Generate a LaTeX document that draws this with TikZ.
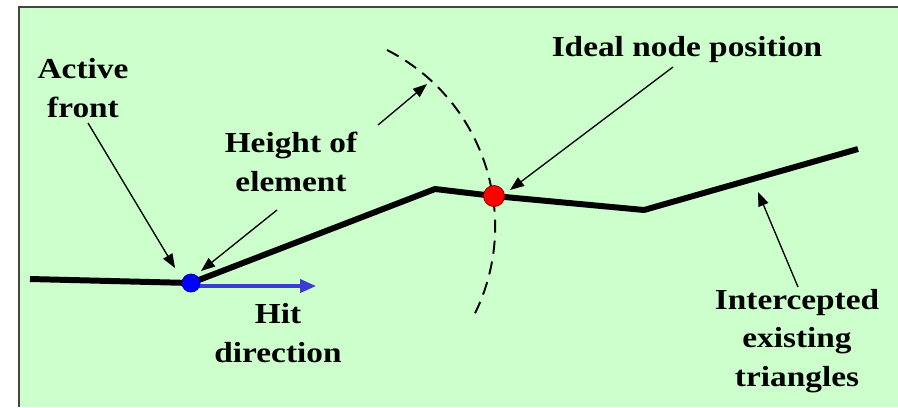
\documentclass[tikz,border=0pt]{standalone}
\usepackage{fontspec}
\setmainfont{Liberation Serif}
\newfontfamily\lblfont[FakeStretch=1.15]{Liberation Serif}
\usetikzlibrary{arrows.meta}
\definecolor{paper}{HTML}{CCFFCC}
\definecolor{frame}{HTML}{444444}
\definecolor{hitblue}{HTML}{3C3CD2}
\tikzset{
  % Bold serif labels
  lbl/.style={font=\lblfont\bfseries\fontsize{16.5}{22}\selectfont,
    align=center, inner sep=0pt},
  % Thin pointers from labels
  ptr/.style={-{Triangle[length=8pt,width=6pt]}, draw=black, line width=0.75pt},
  % The thick front line
  frontline/.style={draw=black, line width=3.4pt, line join=round},
  % Points on the front
  dot/.style={circle, inner sep=0pt, line width=0.5pt, minimum size=#1},
  % Reach of the element height
  reach/.style={draw=black, line width=1.1pt, dash pattern=on 7.5pt off 4.5pt},
  % Hit direction
  hit/.style={-{Triangle[length=9pt,width=7.5pt]}, draw=hitblue, line width=1.8pt},
}

\begin{document}
\begin{tikzpicture}[x=0.02cm, y=-0.02cm]
\useasboundingbox (0,0) rectangle (898,407);

% background and frame
\fill[paper] (19,7) rectangle (898,407);
\draw[frame, line width=1pt] (19,407) -- (19,7) -- (898,7);

% points of the front
\coordinate (p0) at (30,279);
\coordinate (pa) at (191,283);
\coordinate (p1) at (435,189);
\coordinate (pi) at (494,196);
\coordinate (p2) at (644,210);
\coordinate (p3) at (858,149);

% dashed arc
\draw[reach] (387,50) arc[start angle=-63, end angle=26, radius=198];

\draw[frontline] (p0) -- (pa) -- (p1) -- (pi) -- (p2) -- (p3);

% hit direction
\coordinate (hitend) at (316,286);
\draw[hit] (191,286) -- (hitend);

\node[dot=0.36cm, draw=blue!70!black, fill=blue] (active) at (pa) {};
\node[dot=0.42cm, draw=red!60!black, fill=red] (ideal) at (pi) {};

% labels
\node[lbl] (frontlbl) at (83,88) {Active\\front};
\node[lbl] (heightlbl) at (291,162) {Height of\\element};
\node[lbl] (hitlbl) at (278,333) {Hit\\direction};
\node[lbl] (ideallbl) at (687,50) {Ideal node position};
\node[lbl] (interlbl) at (797,341) {Intercepted\\existing\\triangles};

% pointers
\coordinate (t1) at (88,123);
\coordinate (h1) at (175,268);
\coordinate (t2) at (277,210);
\coordinate (h2) at (201,271);
\coordinate (t3) at (378,125);
\coordinate (h3) at (427,84);
\coordinate (t4) at (673,67);
\coordinate (h4) at (510,190);
\coordinate (t5) at (798,287);
\coordinate (h5) at (758,192);

\draw[ptr] (t1) -- (h1);
\draw[ptr] (t2) -- (h2);
\draw[ptr] (t3) -- (h3);
\draw[ptr] (t4) -- (h4);
\draw[ptr] (t5) -- (h5);

\end{tikzpicture}
\end{document}
